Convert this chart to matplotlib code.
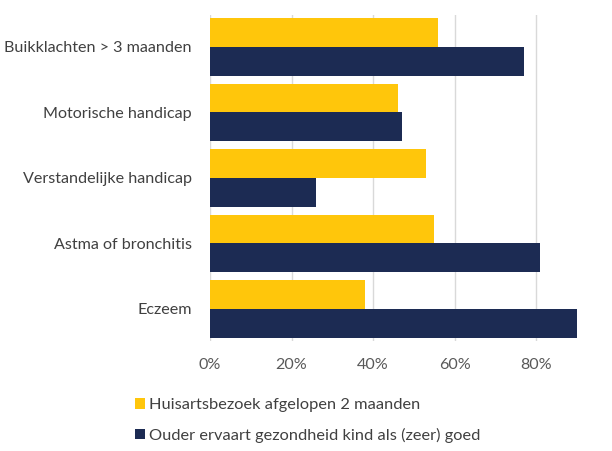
import matplotlib.pyplot as plt
import numpy as np
from matplotlib.ticker import PercentFormatter

categories = ['Buikklachten > 3 maanden', 'Motorische handicap', 'Verstandelijke handicap',
              'Astma of bronchitis', 'Eczeem']
huisarts = [56, 46, 53, 55, 38]
gezondheid = [77, 47, 26, 81, 90]
labels = ['Huisartsbezoek afgelopen 2 maanden', 'Ouder ervaart gezondheid kind als (zeer) goed']

plt.rcParams['font.family'] = ['Lato', 'DejaVu Sans']

fig = plt.figure(figsize=(6.12, 4.51), dpi=100)
ax = fig.add_axes([0.343, 0.244, 0.600, 0.723])

y = np.arange(len(categories))
h = 0.44
ax.barh(y - h / 2, huisarts, height=h, color='#FFC60B', label=labels[0], zorder=2)
ax.barh(y + h / 2, gezondheid, height=h, color='#1C2B53', label=labels[1], zorder=2)

ax.set_xlim(0, 90)
ax.set_ylim(4.49, -0.49)
ax.set_xticks([0, 20, 40, 60, 80])
ax.xaxis.set_major_formatter(PercentFormatter(decimals=0))
ax.set_yticks(y)
ax.set_yticklabels(categories, fontsize=11.6, color='#404040')
ax.tick_params(axis='x', labelsize=11.6, labelcolor='#595959', length=0, pad=12)
ax.tick_params(axis='y', length=0, pad=13)
ax.grid(axis='x', color='#D9D9D9', linewidth=1, zorder=0)
for s in ax.spines.values():
    s.set_visible(False)

fig.legend(loc='upper left', bbox_to_anchor=(0.196, 0.15), frameon=False, fontsize=11.8,
           handlelength=0.6, handleheight=0.6, handletextpad=0.3, labelspacing=0.95,
           labelcolor='#404040')

fig.savefig('out.png', dpi=100)
